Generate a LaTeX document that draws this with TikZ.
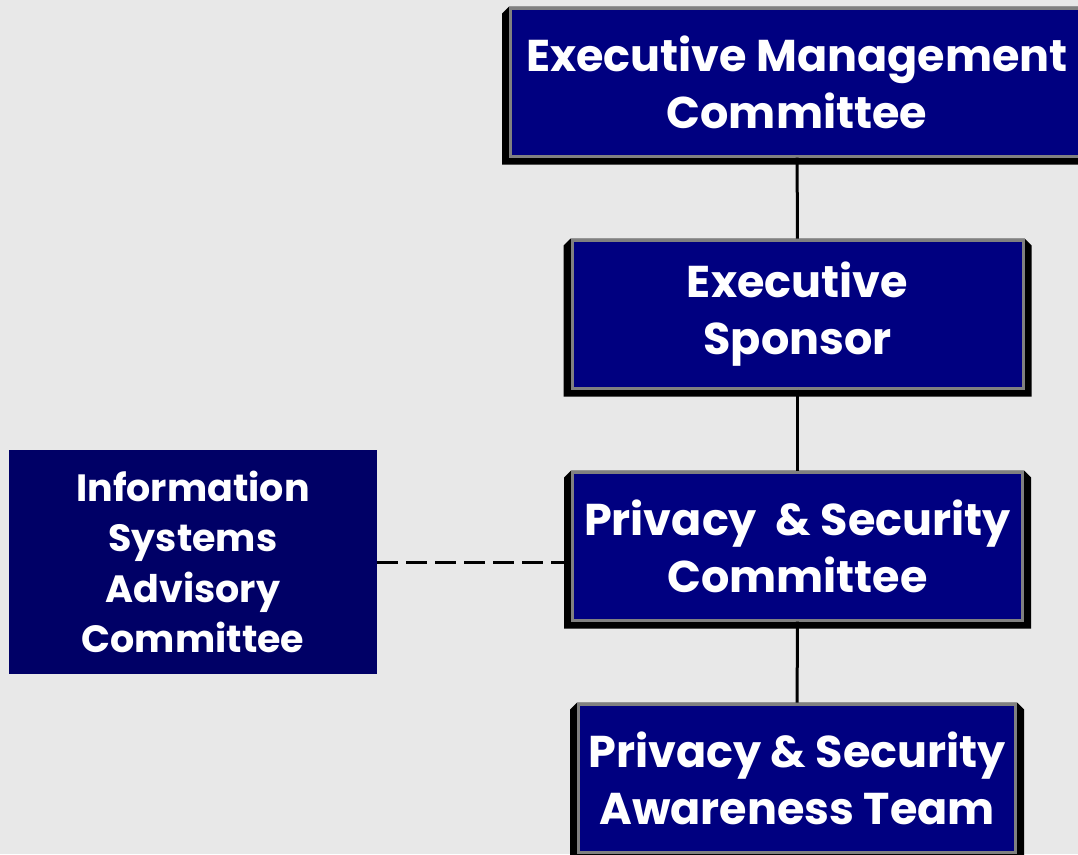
\documentclass[tikz,border=0pt]{standalone}
\usepackage{fontspec}
\setmainfont{Poppins}
\usetikzlibrary{positioning, backgrounds}

\definecolor{pagegrey}{HTML}{E8E8E8}
\definecolor{boxblue}{HTML}{000080}
\definecolor{sideblue}{HTML}{000066}
\definecolor{rimgrey}{HTML}{808080}

% black shadow behind a box: out to the left, right and bottom, top corners cut
\newcommand{\boxshadow}[1]{%
	\fill[black] ([shift={(-7,7)}]#1.north west) -- (#1.north west)
		-- (#1.north east) -- ([shift={(7,7)}]#1.north east)
		-- ([shift={(7,7)}]#1.south east) -- ([shift={(-7,7)}]#1.south west) -- cycle;}

\begin{document}
\begin{tikzpicture}[
		x=1pt, y=-1pt,
		node distance=232pt,
		orgbox/.style={rectangle,draw=rimgrey,line width=3pt,fill=boxblue,
			minimum height=148pt,inner sep=0pt,align=center,text=white,
			font=\fontsize{44.5}{57}\selectfont\bfseries},
		sidebox/.style={rectangle,fill=sideblue,minimum width=368pt,
			minimum height=224pt,inner sep=0pt,align=center,text=white,
			font=\fontsize{38}{50.5}\selectfont\bfseries},
		link/.style={line width=3pt}
		]
		\useasboundingbox (0,0) rectangle (1078,854);
		\begin{scope}[on background layer]
			\fill[pagegrey] (0,0) rectangle (1078,854);
		\end{scope}

		\node[orgbox, minimum width=573pt](EMC) at (797,82){Executive Management\\Committee};
		\node[orgbox, minimum width=451pt, below of = EMC, xshift=0.5pt](ES){Executive\\Sponsor};
		\node[orgbox, minimum width=450pt, below of = ES](PSC){Privacy\ \ \& Security\\Committee};
		\node[orgbox, minimum width=437pt, below of = PSC, xshift=-0.5pt](PSAT){Privacy \& Security\\Awareness Team};
		\node[sidebox](ISAC) at (193,562){Information\\Systems\\Advisory\\Committee};

		\draw[link] (EMC) -- (ES);
		\draw[link] (ES) -- (PSC);
		\draw[link] (PSC) -- (PSAT);
		\draw[link, dash pattern=on 21pt off 8pt] (ISAC.east) -- (ISAC.east -| PSC.west);

		\begin{scope}[on background layer]
			\foreach \b in {EMC,ES,PSC,PSAT} {\boxshadow{\b}}
		\end{scope}
	\end{tikzpicture}
\end{document}
